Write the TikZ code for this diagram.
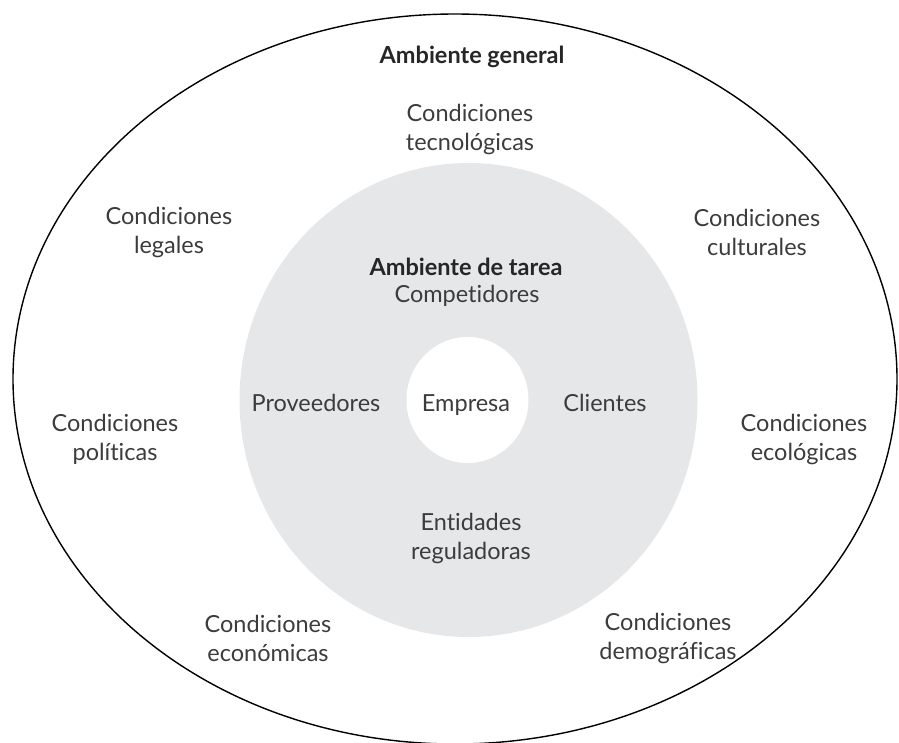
\documentclass[tikz,border=0pt]{standalone}
\usepackage{fontspec}
\setmainfont{Lato}[Ligatures={NoCommon}]
\usetikzlibrary{positioning}
\definecolor{taskgray}{HTML}{E6E7E8}
\definecolor{txtgray}{HTML}{3C3C3C}

\begin{document}
\begin{tikzpicture}[x=1pt,y=-1pt,
  every node/.style={align=center,text=txtgray,inner sep=0pt,
    font=\fontsize{23.5}{29}\selectfont},
  heading/.style={text=black!85,font=\fontsize{23.5}{29}\selectfont\bfseries}]
\useasboundingbox (0,0) rectangle (899,742);
% the three rings
\draw[line width=1.4pt] (455,379) ellipse [x radius=442, y radius=365];
\fill[taskgray] (468.5,400) ellipse [x radius=229, y radius=237];
\fill[white] (467.5,400) ellipse [x radius=61, y radius=63];
% general environment
\node[heading] (gen) at (472,57) {Ambiente general};
\node (tec) at (470,129) {Condiciones\\tecnológicas};
\node (leg) at (169,232) {Condiciones\\legales};
\node (cul) at (757,232) {Condiciones\\culturales};
\node (pol) at (115,439) {Condiciones\\políticas};
\node (eco) at (804,439) {Condiciones\\ecológicas};
\node (econ) at (268,638) {Condiciones\\económicas};
\node (dem) at (668,638) {Condiciones\\demográficas};
% task environment
\node[heading] (tarea) at (466,267) {Ambiente de tarea};
\node (comp) at (467,296) {Competidores};
\node (emp) at (466,405) {Empresa};
\node (prov) at (316,403) {Proveedores};
\node (cli) at (605,403) {Clientes};
\node (ent) at (471,538) {Entidades\\reguladoras};
\end{tikzpicture}
\end{document}
